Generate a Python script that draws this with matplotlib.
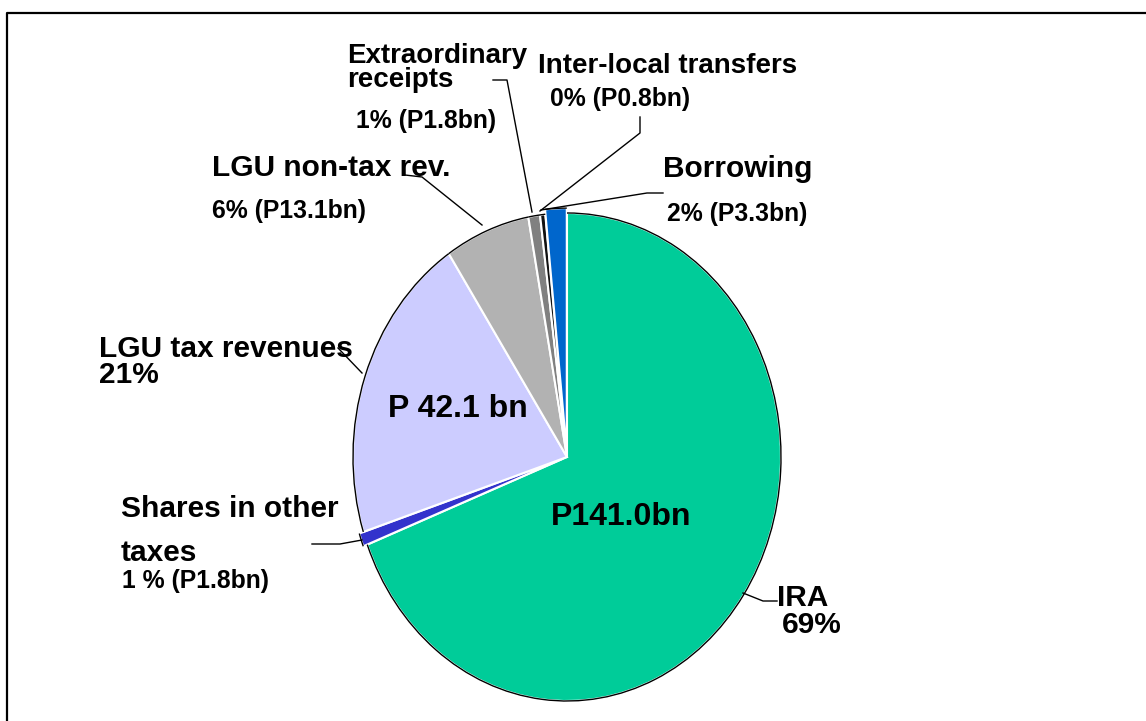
import matplotlib
matplotlib.use("Agg")
import matplotlib.pyplot as plt
from matplotlib.patches import Arc
from matplotlib.lines import Line2D

# ---- data ----
categories = ["IRA", "Shares in other taxes", "LGU tax revenues", "LGU non-tax rev.",
              "Extraordinary receipts", "Inter-local transfers", "Borrowing"]
values_bn = [141.0, 1.8, 42.1, 13.1, 1.8, 0.8, 3.3]
colors = ["#00CC99", "#3333CC", "#CCCCFF", "#B2B2B2", "#808080", "#111111", "#0066CC"]
explode = [0, 0.02, 0, 0, 0, 0, 0.02]

W, H = 1146, 721
CX, CY, RX, RY = 567, 457, 214, 244

def P(x, y):
    return ((x - CX) / RX, (CY - y) / RY)

plt.rcParams['font.family'] = ['Liberation Sans', 'DejaVu Sans']
fig = plt.figure(figsize=(W / 100, H / 100), dpi=100)
ax = fig.add_axes([0, 0, 1, 1])
wedges, _ = ax.pie(values_bn, colors=colors, explode=explode, startangle=90,
                   counterclock=False, radius=1,
                   wedgeprops=dict(edgecolor="white", linewidth=1.5))
ax.set_aspect("auto")
ax.set_xlim(P(0, 0)[0], P(W, 0)[0])
ax.set_ylim(P(0, H)[1], P(0, 0)[1])
ax.axis("off")

# black outer outline
for w in wedges:
    arc = Arc(w.center, 2 * w.r, 2 * w.r, theta1=w.theta1, theta2=w.theta2,
              color="black", linewidth=1.0, zorder=5)
    ax.add_patch(arc)

# frame
fig.add_artist(Line2D([7 / W, 7 / W, 1.0], [0.0, 1 - 13 / H, 1 - 13 / H],
                      transform=fig.transFigure, color="black", linewidth=1.6))

def txt(x, y, s, size, **kw):
    ax.text(*P(x, y), s, fontsize=size, fontweight="bold", ha="left",
            va="baseline", **kw)

def leader(pts):
    xs, ys = zip(*[P(x, y) for x, y in pts])
    ax.plot(xs, ys, color="black", linewidth=1.0, zorder=6)

BIG, MID, SMALL, IN = 21.5, 20, 17.8, 23

txt(347, 63, "Extraordinary", MID)
txt(347, 87, "receipts", MID)
txt(356, 128, "1% (P1.8bn)", SMALL)
txt(538, 73, "Inter-local transfers", MID)
txt(550, 106, "0% (P0.8bn)", SMALL)
txt(663, 177, "Borrowing", BIG)
txt(667, 221, "2% (P3.3bn)", SMALL)
txt(212, 176, "LGU non-tax rev.", BIG)
txt(212, 218, "6% (P13.1bn)", SMALL)
txt(99, 357, "LGU tax revenues", BIG)
txt(99, 383, "21%", BIG)
txt(121, 517, "Shares in other", BIG)
txt(121, 561, "taxes", BIG)
txt(122, 588, "1 % (P1.8bn)", SMALL)
txt(777, 606, "IRA", BIG)
txt(782, 633, "69%", BIG)
txt(388, 417, "P 42.1 bn", IN)
txt(551, 525, "P141.0bn", IN)

leader([(493, 80), (507, 80), (532, 212)])
leader([(640, 117), (640, 133), (540, 211)])
leader([(663, 193), (647, 193), (541, 210)])
leader([(405, 175), (422, 177), (482, 225)])
leader([(338, 348), (362, 373)])
leader([(312, 544), (340, 544), (362, 540)])
leader([(743, 593), (763, 601), (777, 601)])

fig.savefig("out.png", dpi=100)
